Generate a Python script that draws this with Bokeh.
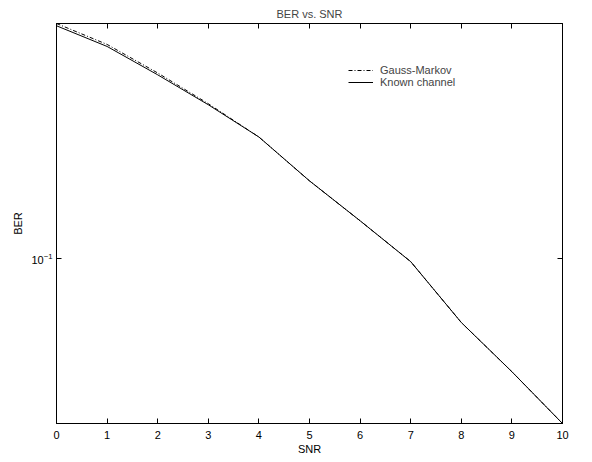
from bokeh.plotting import figure
from bokeh.models import (Range1d, FixedTicker, LinearAxis, LogAxis, Legend,
                          LegendItem)
from bokeh.embed import file_html
from bokeh.resources import INLINE

# ---- data ----
snr = [0, 1, 2, 3, 4, 5, 6, 7, 8, 9, 10]
ber_gauss_markov = [0.2951, 0.268, 0.235, 0.204, 0.175, 0.143, 0.119, 0.0986, 0.0745, 0.0594, 0.0468]
ber_known = [0.292, 0.2655, 0.233, 0.203, 0.175, 0.143, 0.119, 0.0986, 0.0745, 0.0594, 0.0468]
x_ticks = [0, 1, 2, 3, 4, 5, 6, 7, 8, 9, 10]
y_ticks = [0.1]
series_names = ["Gauss-Markov", "Known channel"]
title_text = "BER vs. SNR"
x_label = "SNR"
y_label = "BER"

FONT = "Liberation Sans"
FS = "11px"

all_vals = ber_gauss_markov + ber_known
p = figure(width=584, height=458,
           x_range=Range1d(min(snr), max(snr)),
           y_range=Range1d(min(all_vals), max(all_vals)),
           y_axis_type="log",
           output_backend="svg", toolbar_location=None,
           min_border_left=56, min_border_right=22,
           min_border_top=23, min_border_bottom=35,
           title=title_text)

p.title.align = "center"
p.title.text_font = FONT
p.title.text_font_size = FS
p.title.text_font_style = "normal"
p.title.standoff = 7
p.title.offset = 0

p.xgrid.visible = False
p.ygrid.visible = False
p.outline_line_color = "black"
p.outline_line_width = 1
p.background_fill_color = "white"
p.border_fill_color = "white"

def style_axis(ax, show_labels=True):
    ax.major_tick_in = 5
    ax.major_tick_out = 0
    ax.minor_tick_line_color = None
    ax.axis_line_color = "black"
    ax.major_tick_line_color = "black"
    ax.major_label_text_font = FONT
    ax.major_label_text_font_size = FS if show_labels else "1px"
    ax.major_label_text_color = "black" if show_labels else None
    ax.axis_label_text_font = FONT
    ax.axis_label_text_font_size = FS
    ax.axis_label_text_font_style = "normal"
    ax.axis_label_text_color = "black"

xa = p.xaxis[0]
xa.ticker = FixedTicker(ticks=x_ticks)
xa.axis_label = x_label
style_axis(xa)
xa.major_label_standoff = 7
xa.axis_label_standoff = 1

ya = p.yaxis[0]
ya.ticker = FixedTicker(ticks=y_ticks)
ya.axis_label = y_label
style_axis(ya)
ya.major_label_standoff = 4
ya.axis_label_standoff = 4

top = LinearAxis(ticker=FixedTicker(ticks=x_ticks))
style_axis(top, show_labels=False)
top.major_label_standoff = 0
p.add_layout(top, "above")

right = LogAxis(ticker=FixedTicker(ticks=y_ticks))
style_axis(right, show_labels=False)
right.major_label_standoff = 0
p.add_layout(right, "right")

r_gm = p.line(snr, ber_gauss_markov, line_color="black", line_width=1,
              line_dash="4 2 1 2")
r_kn = p.line(snr, ber_known, line_color="black", line_width=1)

legend = Legend(items=[LegendItem(label=series_names[0], renderers=[r_gm]),
                       LegendItem(label=series_names[1], renderers=[r_kn])],
                location=(292, 335),
                border_line_color=None, background_fill_alpha=0,
                label_text_font=FONT, label_text_font_size=FS,
                glyph_width=25, glyph_height=12, label_height=12,
                padding=0, spacing=0, margin=0, label_standoff=7)
p.add_layout(legend)

open("out.html", "w").write(file_html(p, INLINE))
